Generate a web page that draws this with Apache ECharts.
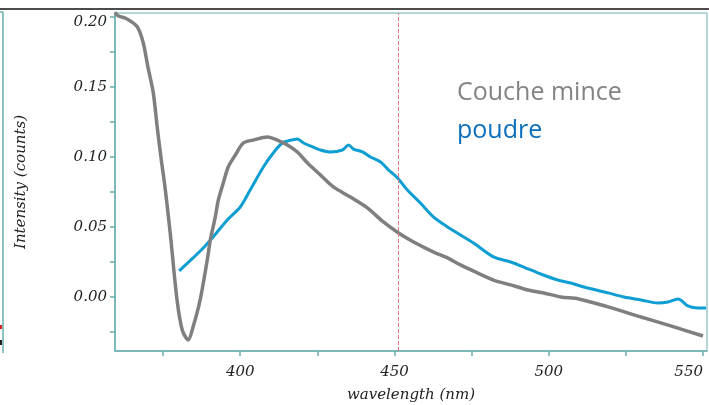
<!DOCTYPE html>
<html>
<head>
<meta charset="utf-8">
<script src="https://cdn.jsdelivr.net/npm/echarts@6/dist/echarts.min.js"></script>
<style>
html,body{margin:0;padding:0;background:#fff;}
#c{width:709px;height:405px;}
</style>
</head>
<body>
<div id="c"></div>
<script>
// ---- data ----
const seriesNames = ['Couche mince', 'poudre'];
const coucheWl = [359.4,360.4,363.3,366.6,368.5,370.1,371.8,373.1,374.4,375.6,377.3,379.5,381.2,383.1,384.7,387.0,389.3,390.3,391.9,392.9,394.5,396.1,398.4,401.0,404.2,408.8,412.0,415.3,418.5,421.8,425.3,430.2,435.7,441.2,446.4,451.3,456.2,462.7,467.2,471.4,477.0,482.1,487.7,493.2,498.4,503.9,509.7,519.2,529.9,540.6,550.0];
const coucheVal = [0.2035,0.201,0.1986,0.193,0.182,0.164,0.146,0.121,0.098,0.0786,0.0457,-0.002,-0.0236,-0.0307,-0.0214,-0.002,0.0264,0.0407,0.0571,0.0693,0.0814,0.0929,0.1014,0.110,0.1121,0.1143,0.1121,0.1086,0.1036,0.0957,0.0886,0.0786,0.0714,0.0636,0.0536,0.0457,0.0393,0.0321,0.0279,0.0229,0.0171,0.0121,0.0086,0.005,0.0029,0.0,-0.0014,-0.0071,-0.0143,-0.0214,-0.0279];
const poudreWl = [380.2,384.7,388.0,391.2,395.8,400.0,403.2,407.5,410.7,413.6,415.3,418.5,420.5,423.7,426.0,429.2,433.1,435.1,436.7,439.6,442.2,445.5,448.1,451.0,454.2,458.4,462.7,467.2,471.4,475.6,482.1,487.7,491.9,497.4,502.9,507.1,511.4,519.2,524.4,529.9,535.4,538.6,541.9,545.1,548.4,551.0];
const poudreVal = [0.0186,0.0279,0.035,0.0429,0.055,0.0643,0.0764,0.0929,0.1029,0.110,0.1114,0.1129,0.110,0.1071,0.105,0.1036,0.105,0.1086,0.1057,0.1036,0.100,0.0964,0.0907,0.085,0.0764,0.0671,0.0571,0.050,0.0443,0.0386,0.0286,0.025,0.0214,0.0164,0.0121,0.010,0.0071,0.0029,0.0,-0.0021,-0.0043,-0.0036,-0.0014,-0.0064,-0.0079,-0.0079];
const xLabels = [400, 450, 500, 550];
const xTicks = [375, 400, 425, 450, 475, 500, 525, 550];
const yLabels = [0, 0.05, 0.10, 0.15, 0.20];
const yTicks = [-0.025, 0, 0.025, 0.05, 0.075, 0.10, 0.125, 0.15, 0.175, 0.20];
const markerWl = 451.3;

const pair = (xs, ys) => xs.map((x, i) => [x, ys[i]]);
const couche = pair(coucheWl, coucheVal);
const poudre = pair(poudreWl, poudreVal);

const teal = '#6aafae';
const serif = 'DejaVu Serif';

const chart = echarts.init(document.getElementById('c'));
chart.setOption({
  animation: false,
  backgroundColor: '#fff',
  grid: { left: 115, top: 13, right: 2, bottom: 54, show: true, borderColor: teal, borderWidth: 1, containLabel: false, outerBoundsMode: 'none' },
  legend: {
    orient: 'vertical', left: 447, top: 75, itemGap: 13, itemWidth: 0, itemHeight: 0,
    icon: 'none', selectedMode: false,
    data: [
      { name: seriesNames[0], textStyle: { color: '#838383' } },
      { name: seriesNames[1], textStyle: { color: '#0b6fbd' } }
    ],
    textStyle: { fontFamily: 'Open Sans', fontSize: 25 }
  },
  xAxis: {
    type: 'value', min: 359.4, max: 551.3,
    name: 'wavelength (nm)', nameLocation: 'middle', nameGap: 37,
    nameTextStyle: { fontFamily: serif, fontStyle: 'italic', fontSize: 15, color: '#222' },
    axisLine: { show: true, onZero: false, lineStyle: { color: teal, width: 1.5 } },
    axisTick: { show: true, customValues: xTicks, length: 5, lineStyle: { color: teal, width: 1.5 } },
    axisLabel: { customValues: xLabels, margin: 14, alignMaxLabel: 'right', fontFamily: serif, fontStyle: 'italic', fontSize: 15, color: '#222' },
    splitLine: { show: false }
  },
  yAxis: {
    type: 'value', min: -0.0386, max: 0.2029,
    name: 'Intensity (counts)', nameLocation: 'middle', nameGap: 86,
    nameTextStyle: { fontFamily: serif, fontStyle: 'italic', fontSize: 15, color: '#222' },
    axisLine: { show: true, onZero: false, lineStyle: { color: teal, width: 1.5 } },
    axisTick: { show: true, customValues: yTicks, length: 5, lineStyle: { color: teal, width: 1.5 } },
    axisLabel: {
      customValues: yLabels, margin: 8, fontFamily: serif, fontStyle: 'italic', fontSize: 15, color: '#222',
      formatter: v => (Math.abs(v - 0.2) < 1e-9 ? '{t|' + v.toFixed(2) + '}' : v.toFixed(2)),
      rich: { t: { fontFamily: serif, fontStyle: 'italic', fontSize: 15, color: '#222', padding: [10, 0, 0, 0] } }
    },
    splitLine: { show: false }
  },
  series: [
    {
      name: seriesNames[0], type: 'line', data: couche, showSymbol: false, smooth: 0.3,
      lineStyle: { color: '#7f7f7f', width: 3.5 }, itemStyle: { color: '#7f7f7f' }, z: 3,
      markLine: {
        silent: true, symbol: 'none', label: { show: false },
        lineStyle: { color: '#e27685', width: 1, type: [4, 2] },
        data: [{ xAxis: markerWl }]
      }
    },
    {
      name: seriesNames[1], type: 'line', data: poudre, showSymbol: false, smooth: 0.3,
      lineStyle: { color: '#0e9ed3', width: 3 }, itemStyle: { color: '#0e9ed3' }, z: 2
    }
  ],
  graphic: [
    { type: 'line', shape: { x1: 0, y1: 9, x2: 709, y2: 9 }, style: { stroke: '#111', lineWidth: 1.5 } },
    { type: 'line', shape: { x1: 3, y1: 12, x2: 3, y2: 353 }, style: { stroke: teal, lineWidth: 1.5 } },
    { type: 'line', shape: { x1: 0, y1: 12, x2: 3, y2: 12 }, style: { stroke: teal, lineWidth: 1.5 } },
    { type: 'rect', shape: { x: 0, y: 325, width: 2, height: 4 }, style: { fill: '#e02020' } },
    { type: 'rect', shape: { x: 0, y: 340, width: 2, height: 5 }, style: { fill: '#222' } }
  ]
});
</script>
</body>
</html>
